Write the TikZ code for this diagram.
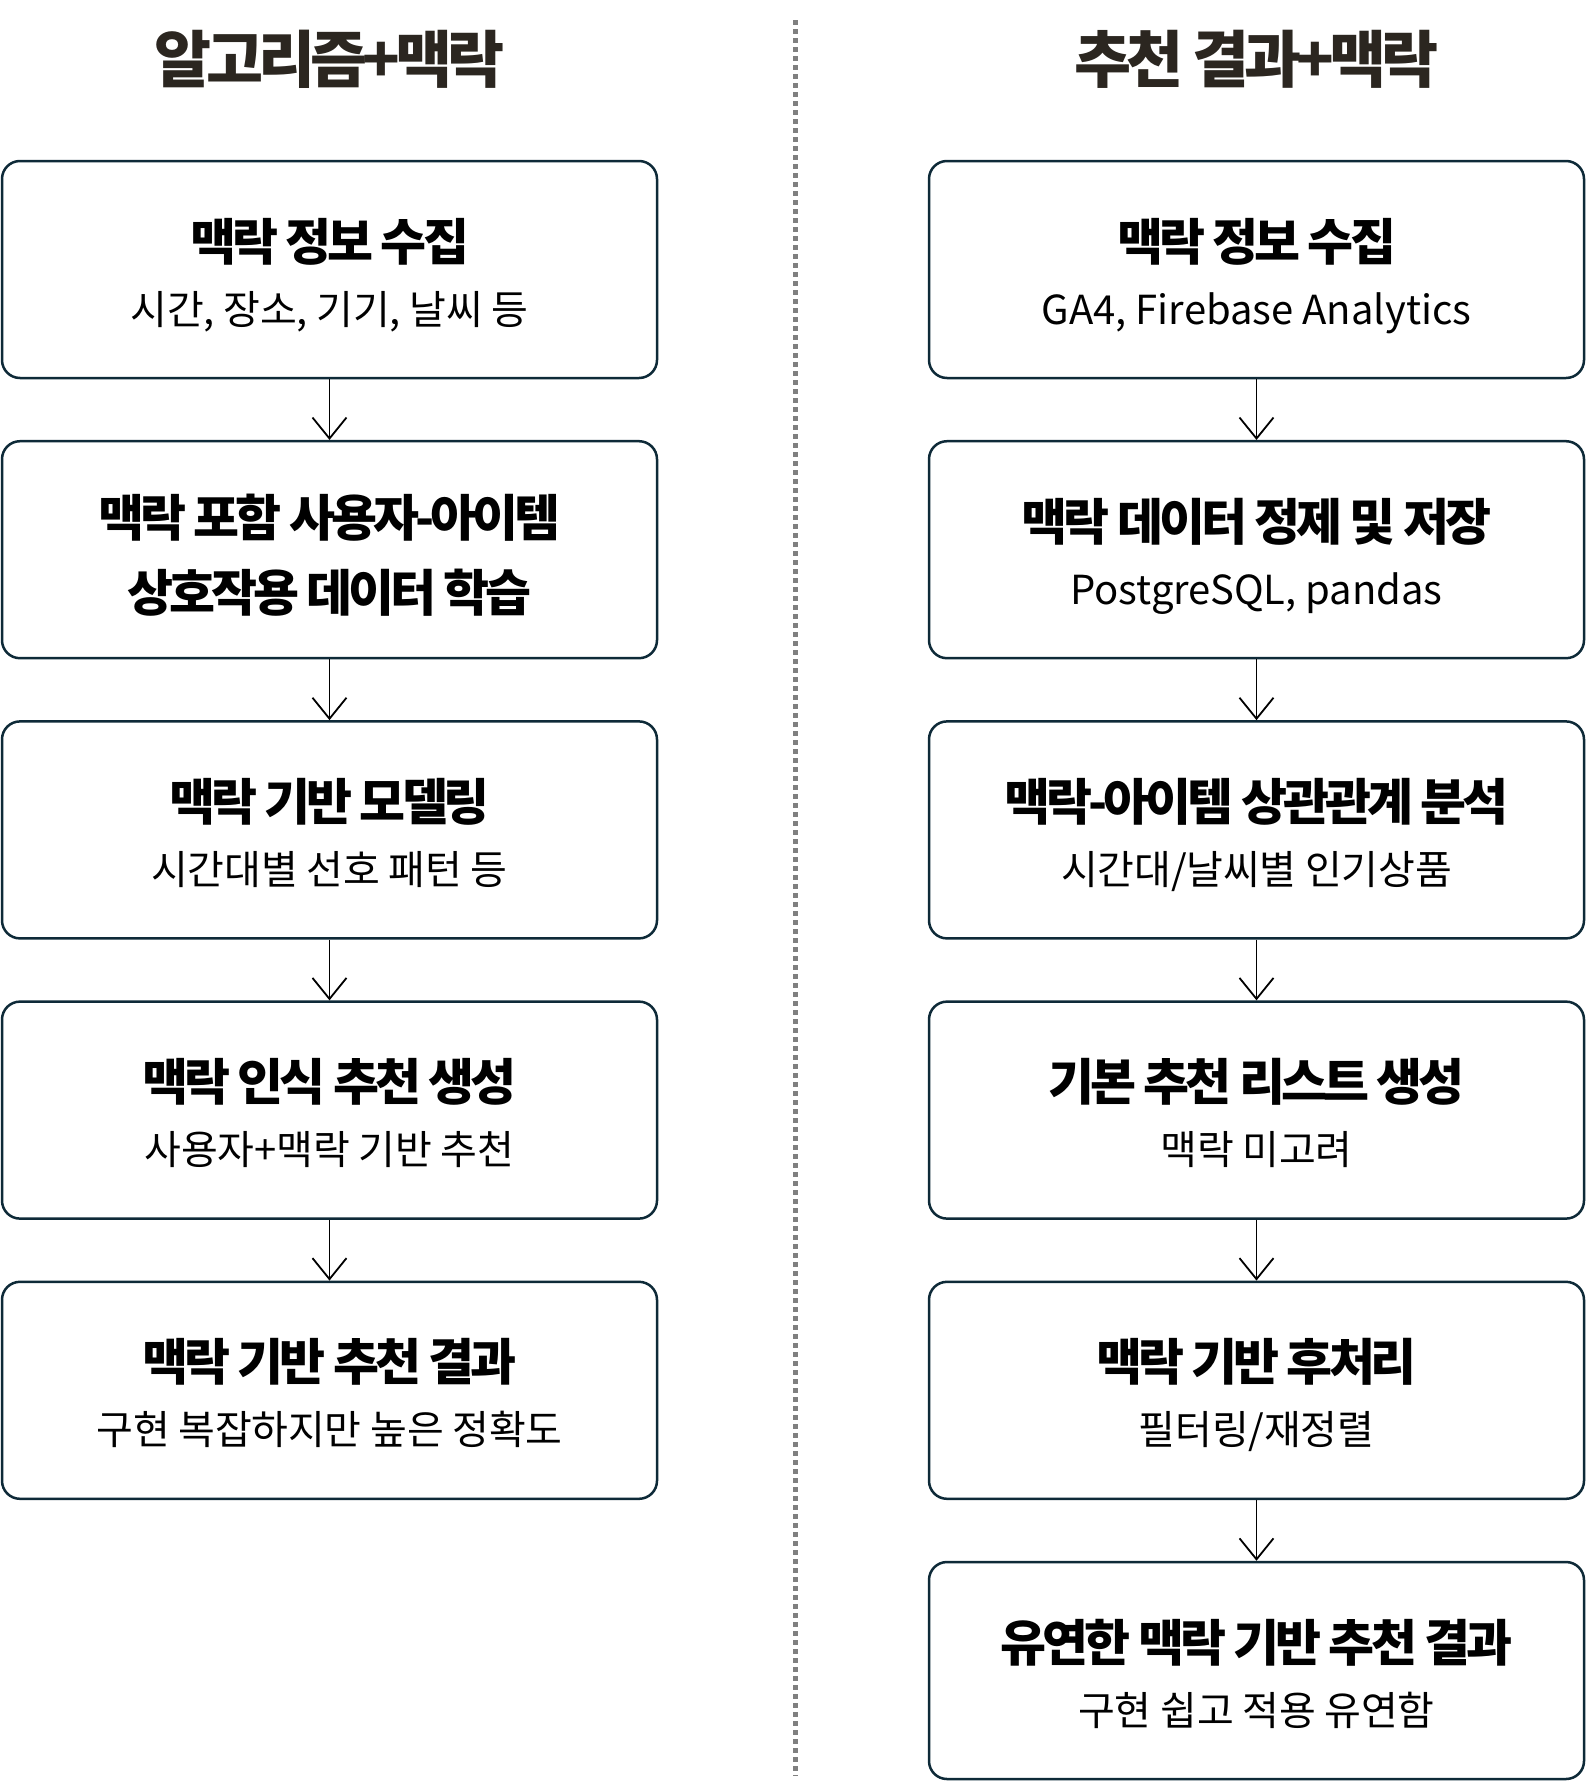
\documentclass[tikz,border=0pt]{standalone}
\usepackage{fontspec}
\usetikzlibrary{arrows.meta}
\setmainfont{Noto Sans CJK KR}
\newfontfamily\titlefont[LetterSpace=-8]{Noto Sans CJK KR}
\newfontfamily\headfont[LetterSpace=-8]{Noto Sans CJK KR}
\newfontfamily\subfont[LetterSpace=-0.5]{Noto Sans CJK KR}
\newfontfamily\sublatfont[LetterSpace=0]{Noto Sans CJK KR}
\definecolor{boxline}{HTML}{0E2A38}
\definecolor{titlecol}{HTML}{2B2620}
\definecolor{dashcol}{HTML}{808080}
\tikzset{
  stepbox/.style={draw=boxline, line width=2.5pt, rounded corners=18pt,
    minimum width=655pt, minimum height=217pt, inner sep=0pt, fill=white},
  headtxt/.style={inner sep=0pt, anchor=base, font=\headfont\bfseries\fontsize{50pt}{58pt}\selectfont},
  subtxt/.style={inner sep=0pt, anchor=base, font=\subfont\fontsize{40pt}{46pt}\selectfont},
  sublat/.style={inner sep=0pt, anchor=base, font=\sublatfont\fontsize{40pt}{46pt}\selectfont},
  titletxt/.style={inner sep=0pt, anchor=base, text=titlecol, font=\titlefont\bfseries\fontsize{62pt}{72pt}\selectfont},
  arr/.style={line width=1.8pt, -{Straight Barb[length=21pt,width=34pt,line width=1.8pt]}},
}
\newcommand\flowbox[6][subtxt]{%
  \node[stepbox] (#2) at (#3,#4+108.5) {};
  \node[headtxt] (#2h) at (#3,#4+99) {#5};
  \node[#1] (#2s) at (#3,#4+163) {#6};
}
\begin{document}
\begin{tikzpicture}[x=1pt,y=-1pt]
\useasboundingbox (0,0) rectangle (1588,1783);
% titles
\node[titletxt] (tl) at (329.5,82) {알고리즘+맥락};
\node[titletxt] (tr) at (1256.5,82) {추천 결과+맥락};
% divider
\coordinate (dtop) at (795.5,20);
\coordinate (dbot) at (795.5,1776);
\draw[dashcol, line width=5pt, dash pattern=on 5pt off 4pt] (dtop) -- (dbot);
% left column
\flowbox{L1}{329.5}{161}{맥락 정보 수집}{시간, 장소, 기기, 날씨 등}
\node[stepbox] (L2) at (329.5,441.2+108.5) {};
\node[headtxt] (L2a) at (329.5,441.2+95) {맥락 포함 사용자-아이템};
\node[headtxt] (L2b) at (329.5,441.2+170) {상호작용 데이터 학습};
\flowbox{L3}{329.5}{721.4}{맥락 기반 모델링}{시간대별 선호 패턴 등}
\flowbox{L4}{329.5}{1001.6}{맥락 인식 추천 생성}{사용자+맥락 기반 추천}
\flowbox{L5}{329.5}{1281.8}{맥락 기반 추천 결과}{구현 복잡하지만 높은 정확도}
% right column
\flowbox[sublat]{R1}{1256.5}{161}{맥락 정보 수집}{GA4, Firebase Analytics}
\flowbox[sublat]{R2}{1256.5}{441.2}{맥락 데이터 정제 및 저장}{PostgreSQL, pandas}
\flowbox{R3}{1256.5}{721.4}{맥락-아이템 상관관계 분석}{시간대/날씨별 인기상품}
\flowbox{R4}{1256.5}{1001.6}{기본 추천 리스트 생성}{맥락 미고려}
\flowbox{R5}{1256.5}{1281.8}{맥락 기반 후처리}{필터링/재정렬}
\flowbox{R6}{1256.5}{1562}{유연한 맥락 기반 추천 결과}{구현 쉽고 적용 유연함}
% arrows
\draw[arr] (L1.south) -- (L2.north);
\draw[arr] (L2.south) -- (L3.north);
\draw[arr] (L3.south) -- (L4.north);
\draw[arr] (L4.south) -- (L5.north);
\draw[arr] (R1.south) -- (R2.north);
\draw[arr] (R2.south) -- (R3.north);
\draw[arr] (R3.south) -- (R4.north);
\draw[arr] (R4.south) -- (R5.north);
\draw[arr] (R5.south) -- (R6.north);
\end{tikzpicture}
\end{document}
